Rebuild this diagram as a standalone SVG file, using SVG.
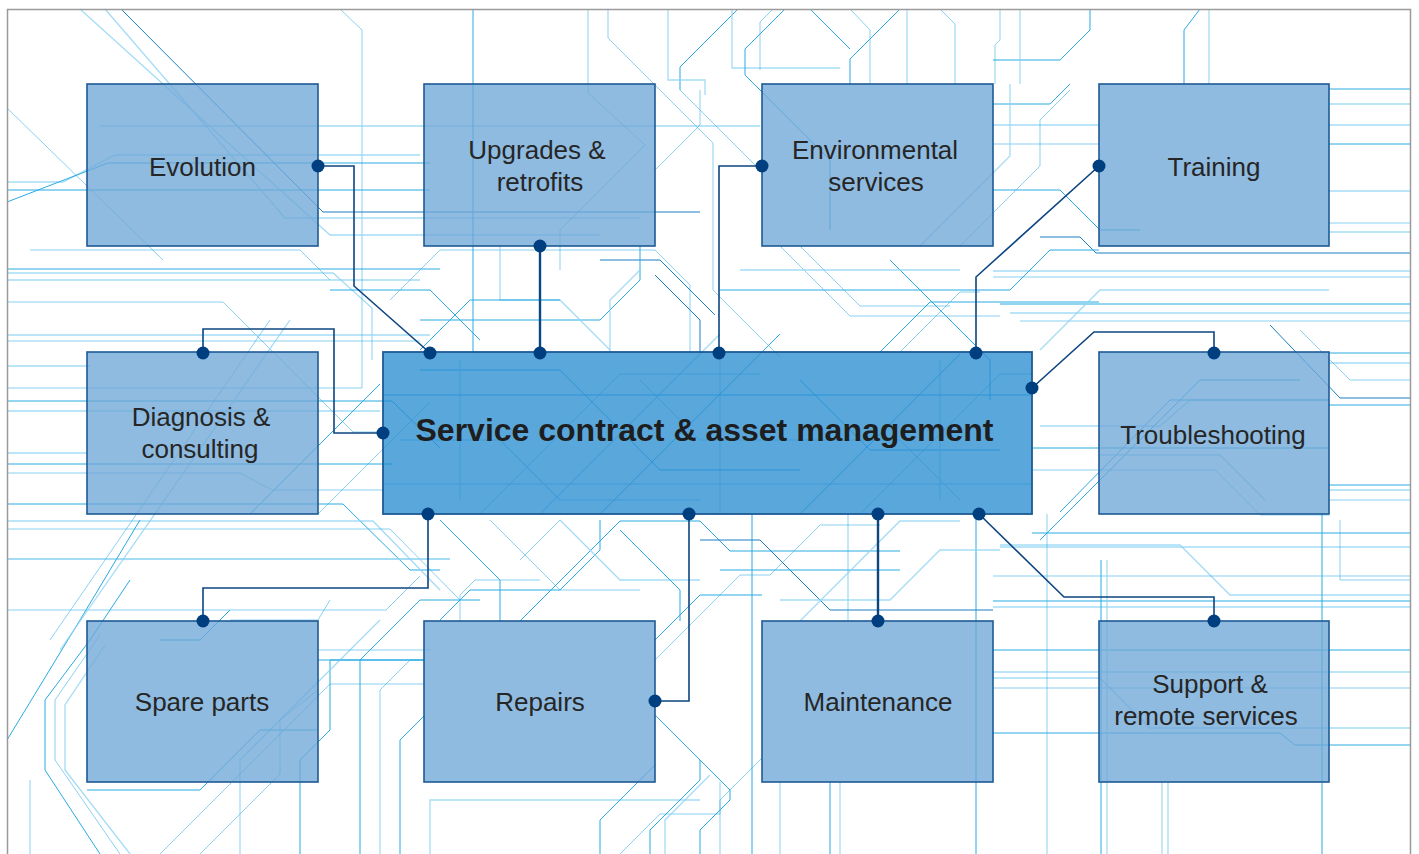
<svg xmlns="http://www.w3.org/2000/svg" width="1419" height="854" viewBox="0 0 1419 854">
<style>
.bg polyline{fill:none;stroke-linejoin:miter}
.a{stroke:#29abe2;stroke-width:1}
.b{stroke:#29abe2;stroke-width:1;stroke-opacity:.55}
.c{stroke:#8dd3f2;stroke-width:1.3;stroke-opacity:.8}
.d{stroke:#1b7fc4;stroke-width:1}
.box rect{fill:#70a8d7;fill-opacity:.78;stroke:#1d5a94;stroke-width:1.6}
.main rect{fill:#2b8ed1;fill-opacity:.78;stroke:#1d5a94;stroke-width:1.8}
.lbl{font-family:"Liberation Sans",Arial,sans-serif;font-size:26px;fill:#262626;text-anchor:middle}
.big{font-family:"Liberation Sans",Arial,sans-serif;font-size:32px;font-weight:bold;fill:#1e1e1e;text-anchor:middle}
.con polyline,.con line{fill:none;stroke:#0d4580;stroke-width:1.6}
.dot{fill:#003f7f}
</style>
<rect x="0" y="0" width="1419" height="854" fill="#ffffff"/>
<g class="bg">
<!-- left horizontals -->
<polyline class="a" points="7,269 440,269"/>
<polyline class="c" points="7,273 333,273 372,308 372,360"/>
<polyline class="c" points="7,280 420,280"/>
<polyline class="b" points="7,302 223,302 353,432 383,432"/>
<polyline class="c" points="7,335 430,335"/>
<polyline class="b" points="7,341 420,341"/>
<polyline class="c" points="7,366 90,366"/>
<polyline class="b" points="7,388 362,388 362,30 340,9"/>
<polyline class="a" points="7,401 392,401 440,448"/>
<polyline class="c" points="7,411 380,411"/>
<polyline class="c" points="7,453 87,453"/>
<polyline class="a" points="7,464 392,464"/>
<polyline class="b" points="7,473 240,473 272,490 383,490"/>
<polyline class="a" points="7,504 343,504 410,570 440,570"/>
<polyline class="c" points="7,521 373,521 440,590"/>
<polyline class="b" points="7,529 390,529 460,600"/>
<polyline class="c" points="7,559 450,559" style="stroke-width:2"/>
<polyline class="b" points="7,610 386,610 420,576"/>
<!-- top-left -->
<polyline class="c" points="7,182 63,182 115,155 420,155"/>
<polyline class="a" points="7,202 108,163 430,163"/>
<polyline class="a" points="7,190 430,190"/>
<polyline class="b" points="7,108 163,260"/>
<polyline class="d" points="121,9 323,212 700,212"/>
<polyline class="c" points="105,9 285,218 640,218"/>
<polyline class="c" points="80,9 330,235 600,235"/>
<polyline class="c" points="100,126 760,126"/>
<polyline class="b" points="30,250 300,250 330,280"/>
<!-- top middle -->
<polyline class="a" points="473,9 473,353"/>
<polyline class="b" points="588,9 588,93 645,145 560,230 560,270"/>
<polyline class="b" points="608,9 608,38 713,143 713,290 780,357"/>
<polyline class="a" points="680,90 680,67 738,9"/>
<polyline class="b" points="680,90 760,170"/>
<polyline class="c" points="732,9 732,68 840,68"/>
<polyline class="a" points="785,9 745,49 745,75 830,160 830,230"/>
<polyline class="c" points="668,9 668,80 705,80 705,95"/>
<polyline class="b" points="760,70 760,22 773,9"/>
<polyline class="a" points="330,290 430,290 480,340"/>
<polyline class="d" points="600,260 660,260 715,315"/>
<polyline class="b" points="390,300 440,250 655,250 690,285 690,352"/>
<polyline class="a" points="420,320 600,320 640,280 640,246"/>
<polyline class="c" points="500,246 500,300 560,300 610,350"/>
<polyline class="b" points="655,170 700,125 700,90"/>
<polyline class="a" points="420,350 470,300 560,300"/>
<polyline class="d" points="655,275 700,320 700,353"/>
<polyline class="c" points="640,270 610,300 610,352"/>
<!-- top right -->
<polyline class="a" points="993,60 1060,60 1090,30 1090,9"/>
<polyline class="b" points="1000,9 1000,40 995,45 995,84"/>
<polyline class="c" points="1020,84 1020,9"/>
<polyline class="a" points="1184,84 1184,30 1200,9"/>
<polyline class="b" points="1209,84 1209,9"/>
<polyline class="c" points="907,9 907,84"/>
<polyline class="b" points="850,9 870,30 870,84"/>
<polyline class="a" points="810,9 850,49"/>
<polyline class="a" points="900,9 850,59 850,84"/>
<polyline class="b" points="940,9 955,24 955,84"/>
<polyline class="a" points="993,104 1050,104 1070,84"/>
<polyline class="c" points="993,125 1060,125 1099,125"/>
<polyline class="b" points="993,144 1099,144"/>
<polyline class="a" points="1329,89 1410,89"/>
<polyline class="c" points="1329,104 1410,104"/>
<polyline class="c" points="1329,125 1410,125"/>
<polyline class="a" points="1329,144 1410,144"/>
<polyline class="c" points="1329,191 1410,191"/>
<polyline class="b" points="1329,223 1410,223"/>
<polyline class="c" points="1329,232 1410,232"/>
<polyline class="d" points="1040,237 1080,237 1096,253 1410,253"/>
<polyline class="c" points="993,271 1410,271"/>
<polyline class="b" points="993,277 1410,277"/>
<polyline class="a" points="1000,304 1410,304"/>
<polyline class="c" points="1010,313 1410,313"/>
<polyline class="b" points="1020,321 1410,321"/>
<polyline class="a" points="993,190 1060,190 1100,230 1140,230"/>
<polyline class="b" points="960,246 1040,166 1040,120 1070,90"/>
<polyline class="c" points="920,246 1010,156 1010,84"/>
<polyline class="a" points="890,260 990,360 990,400"/>
<polyline class="b" points="780,246 850,316 1000,316"/>
<polyline class="a" points="720,290 1010,290 1050,250 1099,250"/>
<polyline class="c" points="740,270 960,270"/>
<polyline class="b" points="800,246 860,306 950,306"/>
<polyline class="a" points="880,352 930,302 1099,302"/>
<polyline class="b" points="900,352 960,292 980,292"/>
<polyline class="c" points="1040,350 1100,290 1329,290"/>
<!-- right middle -->
<polyline class="a" points="1329,353 1410,353"/>
<polyline class="c" points="1329,363 1410,363"/>
<polyline class="b" points="1300,330 1350,380 1410,380"/>
<polyline class="d" points="1270,325 1340,398 1410,398"/>
<polyline class="a" points="1329,405 1410,405"/>
<polyline class="c" points="1040,426 1160,426 1190,400 1329,400"/>
<polyline class="a" points="1032,448 1329,448"/>
<polyline class="a" points="1329,485 1410,485"/>
<polyline class="c" points="1329,490 1410,490"/>
<polyline class="b" points="1329,500 1410,500"/>
<polyline class="a" points="1060,512 1170,400 1329,400"/>
<polyline class="b" points="1032,470 1115,470 1215,470 1260,515 1329,515"/>
<polyline class="c" points="1100,455 1220,455 1265,500"/>
<polyline class="a" points="1040,540 1200,380 1300,380"/>
<!-- right lower -->
<polyline class="a" points="1032,533 1410,533"/>
<polyline class="c" points="1000,545 1180,545 1230,595 1410,595"/>
<polyline class="c" points="1000,547 1410,547"/>
<polyline class="b" points="993,576 1410,576"/>
<polyline class="a" points="993,601 1410,601"/>
<polyline class="c" points="993,607 1410,607"/>
<polyline class="a" points="993,650 1410,650"/>
<polyline class="c" points="993,672 1410,672"/>
<polyline class="c" points="993,678 1100,678 1150,728 1410,728"/>
<polyline class="b" points="993,688 1410,688"/>
<polyline class="a" points="993,733 1280,733 1295,745 1410,745"/>
<polyline class="a" points="976,514 976,854"/>
<polyline class="b" points="1047,514 1047,854"/>
<polyline class="a" points="1101,560 1101,854"/>
<polyline class="c" points="1107,560 1107,854"/>
<polyline class="b" points="1162,782 1162,854"/>
<polyline class="c" points="1168,782 1168,854"/>
<polyline class="a" points="1322,514 1322,854"/>
<polyline class="b" points="1340,520 1340,580 1410,580"/>
<!-- bottom middle -->
<polyline class="a" points="360,854 360,660 420,600 480,600"/>
<polyline class="b" points="380,854 380,690 410,660 424,660"/>
<polyline class="a" points="400,854 400,740 424,716"/>
<polyline class="c" points="430,854 430,800 655,800 700,800"/>
<polyline class="a" points="440,620 470,590 560,590 600,550 600,520"/>
<polyline class="b" points="460,621 460,595 475,580 540,580"/>
<polyline class="a" points="300,854 300,760 330,730 330,660 424,660"/>
<polyline class="c" points="240,854 240,760 380,620"/>
<polyline class="b" points="160,854 330,684 424,684"/>
<polyline class="a" points="600,854 600,820 655,765"/>
<polyline class="b" points="620,854 660,814 720,814 720,782"/>
<polyline class="a" points="650,854 650,830 700,780 700,760 655,715"/>
<polyline class="c" points="665,854 665,820 710,775"/>
<polyline class="a" points="700,854 700,830 730,800 730,790 655,715"/>
<polyline class="b" points="720,854 720,800 762,758"/>
<polyline class="a" points="752,514 752,854"/>
<polyline class="c" points="780,782 780,854"/>
<polyline class="a" points="830,782 830,854"/>
<polyline class="b" points="840,782 840,854"/>
<polyline class="c" points="848,514 848,621"/>
<polyline class="a" points="655,640 700,595 762,595"/>
<polyline class="b" points="655,660 740,575 770,575 820,525 880,525"/>
<polyline class="a" points="520,621 620,521 700,521 730,551 900,551"/>
<polyline class="c" points="560,520 620,580 700,580"/>
<polyline class="b" points="490,520 560,590 640,590"/>
<polyline class="a" points="620,530 680,590 680,621"/>
<polyline class="d" points="700,540 760,540 830,610 993,610"/>
<polyline class="a" points="720,570 900,570"/>
<polyline class="c" points="780,600 890,600 940,550 1000,550"/>
<polyline class="b" points="520,560 560,520"/>
<polyline class="a" points="440,520 500,580 500,621"/>
<polyline class="c" points="800,621 900,521 960,521"/>
<!-- bottom left -->
<polyline class="a" points="100,854 45,770 45,700 90,640 130,580"/>
<polyline class="b" points="120,854 55,760 55,700 100,635"/>
<polyline class="c" points="130,854 65,770 65,705 105,645"/>
<polyline class="a" points="7,740 80,620 140,520"/>
<polyline class="b" points="50,640 270,320"/>
<polyline class="c" points="60,650 290,320"/>
<polyline class="a" points="87,790 200,790 260,730 318,730"/>
<polyline class="b" points="200,854 280,774 280,720 318,690"/>
<polyline class="c" points="30,854 30,780"/>
<polyline class="a" points="160,640 200,640 230,610"/>
<polyline class="b" points="318,650 430,650"/>
<polyline class="a" points="318,660 424,660"/>
<polyline class="b" points="230,620 318,620 330,600"/>
<!-- diagonals crossing middle -->
<polyline class="a" points="250,514 380,384"/>
<polyline class="b" points="318,514 430,402"/>
<polyline class="a" points="600,514 780,334"/>
<polyline class="b" points="480,514 620,374 760,374"/>
<polyline class="c" points="540,514 720,334"/>
<polyline class="a" points="800,514 960,354"/>
<polyline class="b" points="860,514 1000,374 1032,374"/>
<polyline class="a" points="420,370 560,370 660,470 800,470"/>
<polyline class="c" points="400,440 500,440 560,500 700,500"/>
<polyline class="b" points="640,380 700,440 900,440 960,500"/>
<polyline class="a" points="800,380 870,450 1000,450"/>
<polyline class="c" points="460,360 460,500"/>
<polyline class="b" points="720,353 720,514"/>
<polyline class="c" points="940,360 940,500"/>
<polyline class="a" points="383,395 1032,395"/>
<polyline class="c" points="383,484 1032,484"/>
</g>
<g class="con">
<polyline points="318,166 354,166 354,286 430,353"/>
<line x1="540" y1="246" x2="540" y2="353" style="stroke-width:2.4"/>
<polyline points="762,166 719,166 719,353"/>
<polyline points="1099,166 976,277 976,353"/>
<polyline points="203,353 203,329 334,329 334,433 383,433"/>
<polyline points="1032,388 1094,332 1214,332 1214,353"/>
<polyline points="203,621 203,588 428,588 428,514"/>
<polyline points="655,701 689,701 689,514"/>
<line x1="878" y1="514" x2="878" y2="621" style="stroke-width:2.4"/>
<polyline points="979,514 1064,597 1214,597 1214,621"/>
</g>
<g id="evolution" class="box"><rect x="87" y="84" width="231" height="162"/><text class="lbl" x="202.5" y="176">Evolution</text></g>
<g id="upgrades" class="box"><rect x="424" y="84" width="231" height="162"/><text class="lbl" x="537" y="159">Upgrades &amp;</text><text class="lbl" x="540" y="191">retrofits</text></g>
<g id="environmental" class="box"><rect x="762" y="84" width="231" height="162"/><text class="lbl" x="875" y="159">Environmental</text><text class="lbl" x="876" y="191">services</text></g>
<g id="training" class="box"><rect x="1099" y="84" width="230" height="162"/><text class="lbl" x="1214" y="176">Training</text></g>
<g id="diagnosis" class="box"><rect x="87" y="352" width="231" height="162"/><text class="lbl" x="201" y="426">Diagnosis &amp;</text><text class="lbl" x="200" y="458">consulting</text></g>
<g id="troubleshooting" class="box"><rect x="1099" y="352" width="230" height="162"/><text class="lbl" x="1213" y="444">Troubleshooting</text></g>
<g id="spare-parts" class="box"><rect x="87" y="621" width="231" height="161"/><text class="lbl" x="202" y="711">Spare parts</text></g>
<g id="repairs" class="box"><rect x="424" y="621" width="231" height="161"/><text class="lbl" x="540" y="711">Repairs</text></g>
<g id="maintenance" class="box"><rect x="762" y="621" width="231" height="161"/><text class="lbl" x="878" y="711">Maintenance</text></g>
<g id="support" class="box"><rect x="1099" y="621" width="230" height="161"/><text class="lbl" x="1210" y="693">Support &amp;</text><text class="lbl" x="1206" y="725">remote services</text></g>
<g id="service-contract" class="main"><rect x="383" y="352" width="649" height="162"/><text class="big" x="704.5" y="441">Service contract &amp; asset management</text></g>
<g id="dots">
<circle class="dot" cx="318" cy="166" r="6.5"/>
<circle class="dot" cx="430" cy="353" r="6.5"/>
<circle class="dot" cx="540" cy="246" r="6.5"/>
<circle class="dot" cx="540" cy="353" r="6.5"/>
<circle class="dot" cx="762" cy="166" r="6.5"/>
<circle class="dot" cx="719" cy="353" r="6.5"/>
<circle class="dot" cx="1099" cy="166" r="6.5"/>
<circle class="dot" cx="976" cy="353" r="6.5"/>
<circle class="dot" cx="203" cy="353" r="6.5"/>
<circle class="dot" cx="383" cy="433" r="6.5"/>
<circle class="dot" cx="1032" cy="388" r="6.5"/>
<circle class="dot" cx="1214" cy="353" r="6.5"/>
<circle class="dot" cx="203" cy="621" r="6.5"/>
<circle class="dot" cx="428" cy="514" r="6.5"/>
<circle class="dot" cx="655" cy="701" r="6.5"/>
<circle class="dot" cx="689" cy="514" r="6.5"/>
<circle class="dot" cx="878" cy="514" r="6.5"/>
<circle class="dot" cx="878" cy="621" r="6.5"/>
<circle class="dot" cx="979" cy="514" r="6.5"/>
<circle class="dot" cx="1214" cy="621" r="6.5"/>
</g>
<polyline points="7.5,854 7.5,9.5 1410.5,9.5 1410.5,854" fill="none" stroke="#9a9a9a" stroke-width="1.5"/>
</svg>
